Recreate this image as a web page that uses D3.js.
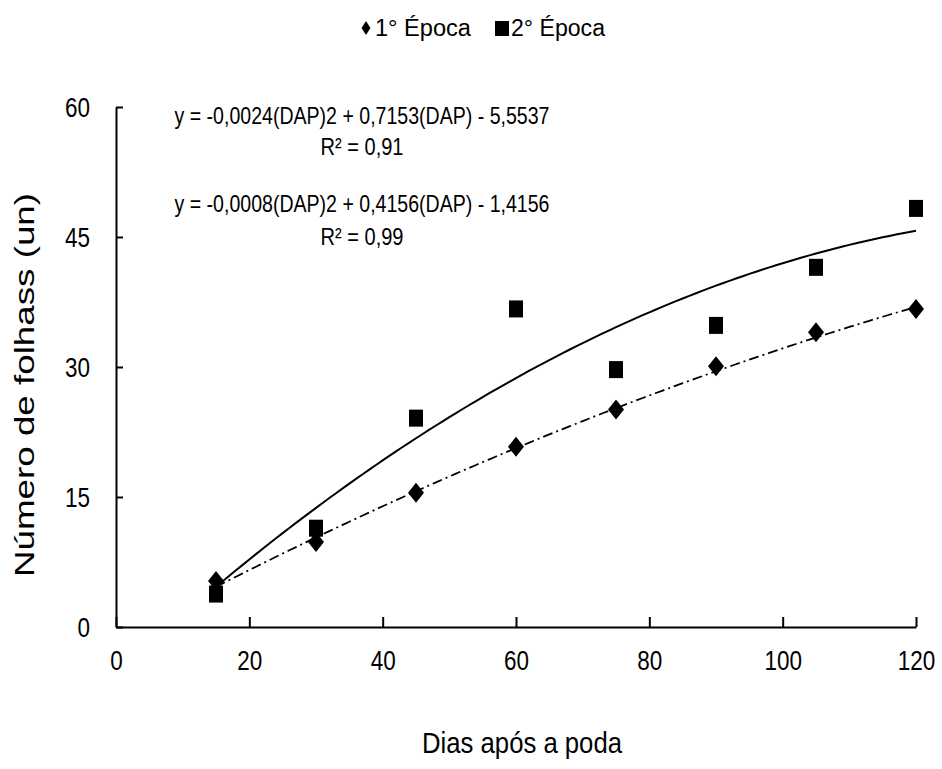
<!DOCTYPE html>
<html>
<head>
<meta charset="utf-8">
<script src="https://cdn.jsdelivr.net/npm/d3@7"></script>
<style>
  html, body { margin: 0; padding: 0; background: #fff; }
  text { font-family: "Liberation Sans", Arial, sans-serif; fill: #000; }
</style>
</head>
<body>
<svg id="chart" width="942" height="769"></svg>
<script>
// dados
const dias = [15, 30, 45, 60, 75, 90, 105, 120];
const epoca1 = [5.3, 9.8, 15.5, 20.8, 25.1, 30.1, 34.0, 36.7];
const epoca2 = [3.8, 11.4, 24.1, 36.7, 29.7, 34.8, 41.5, 48.3];
const xTicks = [0, 20, 40, 60, 80, 100, 120];
const yTicks = [0, 15, 30, 45, 60];
const seriesNames = ['1° Época', '2° Época'];
// coeficientes das linhas de tendência (a·x² + b·x + c)
const coefEpoca1 = [-0.0008, 0.4156, -1.4156];
const coefEpoca2 = [-0.0024, 0.7153, -5.5537];
const equacoes = [
  'y = -0,0024(DAP)2 + 0,7153(DAP) - 5,5537', 'R² = 0,91',
  'y = -0,0008(DAP)2 + 0,4156(DAP) - 1,4156', 'R² = 0,99'
];

const svg = d3.select('#chart');
const x = d3.scaleLinear().domain([0, 120]).range([116, 916]);
const y = d3.scaleLinear().domain([0, 60]).range([627, 107]);

// eixos
const xAxis = svg.append('g')
  .attr('transform', 'translate(0,' + y(0) + ')')
  .call(d3.axisBottom(x).tickValues(xTicks).tickSizeInner(-10).tickSizeOuter(0).tickPadding(25));
const yAxis = svg.append('g')
  .attr('transform', 'translate(' + x(0) + ',0)')
  .call(d3.axisLeft(y).tickValues(yTicks).tickSizeInner(-7).tickSizeOuter(0).tickPadding(26));

[xAxis, yAxis].forEach(g => {
  g.select('.domain').attr('stroke', '#000').attr('stroke-width', 2);
  g.selectAll('.tick line').attr('stroke', '#000').attr('stroke-width', 2);
  g.selectAll('.tick text')
    .attr('fill', '#000')
    .style('font-family', '"Liberation Sans", Arial, sans-serif')
    .style('font-size', '27px')
    .attr('lengthAdjust', 'spacingAndGlyphs')
    .attr('textLength', d => String(d).length * 12.5);
});
xAxis.selectAll('.tick text').attr('dy', '0.71em').attr('y', 24);
yAxis.selectAll('.tick text').attr('dy', '0.36em');

// linhas de tendência
function poly(c) { return v => c[0] * v * v + c[1] * v + c[2]; }
const xs = d3.range(15, 120.01, 1);
const line = d3.line().x(d => x(d[0])).y(d => y(d[1]));
svg.append('path')
  .datum(xs.map(v => [v, poly(coefEpoca2)(v)]))
  .attr('d', line).attr('fill', 'none')
  .attr('stroke', '#000').attr('stroke-width', 2);
svg.append('path')
  .datum(xs.map(v => [v, poly(coefEpoca1)(v)]))
  .attr('d', line).attr('fill', 'none')
  .attr('stroke', '#000').attr('stroke-width', 1.8)
  .attr('stroke-dasharray', '10,4,2,4');

// pontos
const diamond = (w, h) => 'M0,' + (-h) + 'L' + w + ',0L0,' + h + 'L' + (-w) + ',0Z';
svg.append('g').selectAll('rect')
  .data(dias.map((d, i) => [d, epoca2[i]]))
  .enter().append('rect')
    .attr('x', d => x(d[0]) - 7)
    .attr('y', d => y(d[1]) - 8.5)
    .attr('width', 14).attr('height', 17)
    .attr('fill', '#000');
svg.append('g').selectAll('path')
  .data(dias.map((d, i) => [d, epoca1[i]]))
  .enter().append('path')
    .attr('transform', d => 'translate(' + x(d[0]) + ',' + y(d[1]) + ')')
    .attr('d', diamond(8, 10))
    .attr('fill', '#000');

// equações
const eqY = [124, 155, 212, 245];
svg.selectAll('.eq')
  .data(equacoes)
  .enter().append('text')
    .attr('class', 'eq')
    .attr('x', 362)
    .attr('y', (d, i) => eqY[i])
    .attr('text-anchor', 'middle')
    .style('font-size', '24px')
    .attr('lengthAdjust', 'spacingAndGlyphs')
    .attr('textLength', (d, i) => i % 2 === 0 ? 375 : 83)
    .text(d => d);

// legenda
svg.append('path')
  .attr('transform', 'translate(366,28)')
  .attr('d', diamond(4.5, 7))
  .attr('fill', '#000');
svg.append('text')
  .attr('x', 375).attr('y', 36)
  .style('font-size', '23px')
  .attr('lengthAdjust', 'spacingAndGlyphs').attr('textLength', 96)
  .text(seriesNames[0]);
svg.append('rect')
  .attr('x', 495).attr('y', 21).attr('width', 14).attr('height', 15)
  .attr('fill', '#000');
svg.append('text')
  .attr('x', 511).attr('y', 36)
  .style('font-size', '23px')
  .attr('lengthAdjust', 'spacingAndGlyphs').attr('textLength', 94)
  .text(seriesNames[1]);

// títulos dos eixos
svg.append('text')
  .attr('x', 522).attr('y', 753)
  .attr('text-anchor', 'middle')
  .style('font-size', '30px')
  .attr('lengthAdjust', 'spacingAndGlyphs').attr('textLength', 200)
  .text('Dias após a poda');
svg.append('text')
  .attr('transform', 'translate(34,385) rotate(-90)')
  .attr('text-anchor', 'middle')
  .style('font-size', '28px')
  .attr('lengthAdjust', 'spacingAndGlyphs').attr('textLength', 384)
  .text('Número de folhass (un)');
</script>
</body>
</html>
